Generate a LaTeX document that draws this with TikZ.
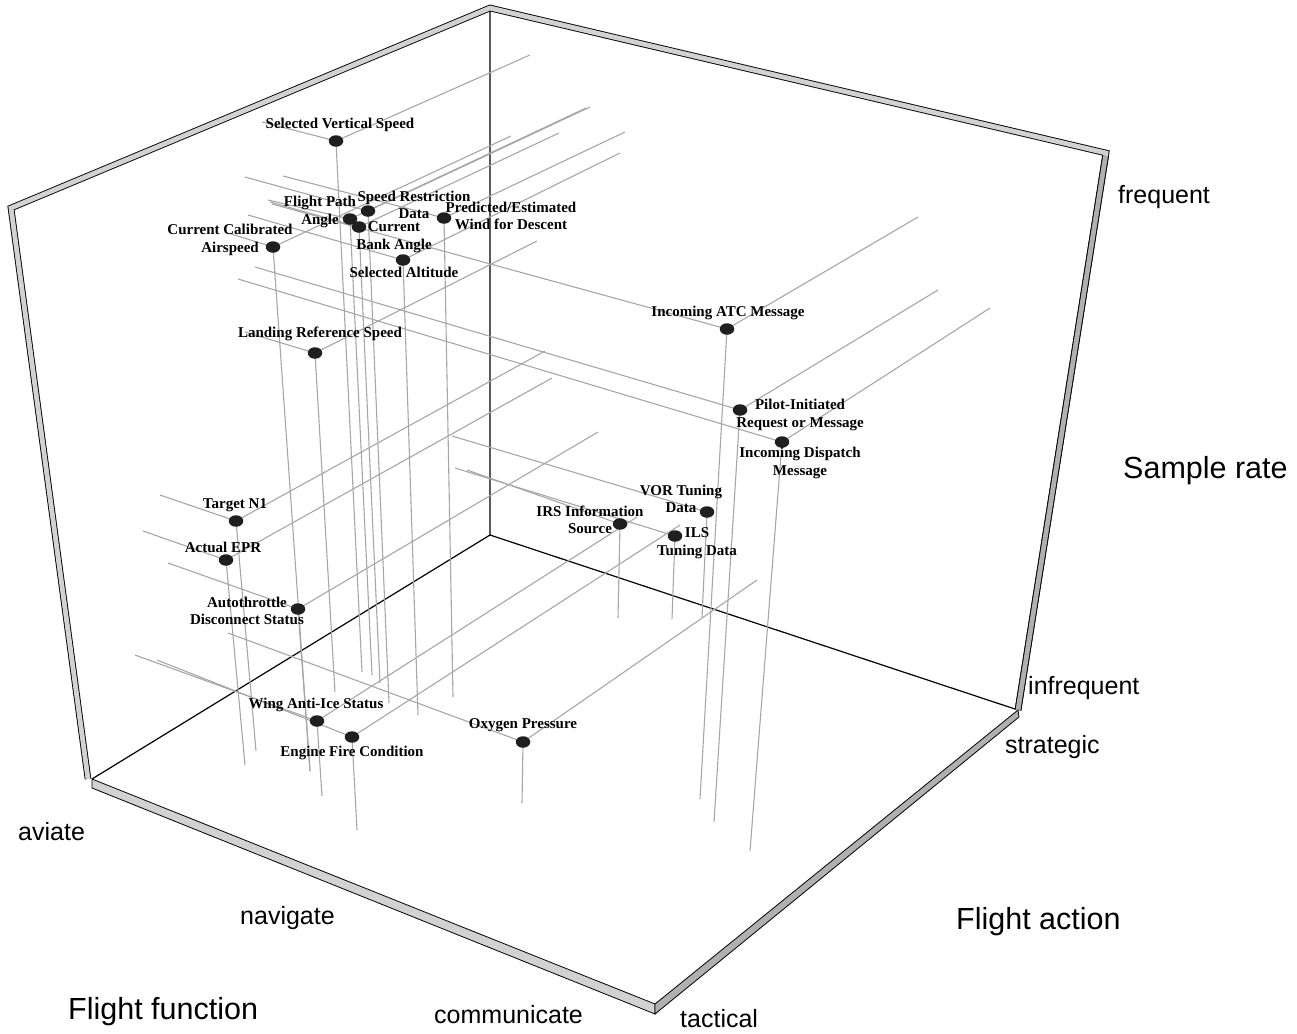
\documentclass[tikz,border=0pt]{standalone}
\usepackage{fontspec}
\setmainfont{Liberation Serif}
\newfontfamily\axisfont{Liberation Sans}
\usetikzlibrary{shapes.geometric}
\begin{document}
\begin{tikzpicture}[x=1pt,y=-1pt,
  guide/.style={draw=gray!70, line width=1.1pt},
  axisline/.style={draw=black, line width=1.2pt},
  barline/.style={draw=black, line width=0.9pt, double=gray!35, double distance=4.8pt, line join=miter},
  dotm/.style={ellipse, fill=black!88, minimum width=14.5pt, minimum height=11.5pt, inner sep=0pt},
  lab/.style={font=\bfseries\fontsize{15}{17.5}\selectfont, align=center, inner sep=0pt},
  ticklab/.style={font=\axisfont\fontsize{25}{28}\selectfont, inner sep=0pt, anchor=west},
  titlelab/.style={font=\axisfont\fontsize{30.5}{33}\selectfont, inner sep=0pt, anchor=west}]
\useasboundingbox (0,0) rectangle (1297,1033);

% ---------- box ----------
\coordinate (B) at (490,535);
\coordinate (Bt) at (490,8);
\coordinate (L) at (92,779);
\coordinate (Lt) at (11,208);
\coordinate (Lb) at (88,779);
\coordinate (R) at (1018,710);
\coordinate (Rt) at (1106,153);
\coordinate (F) at (655,1004);
\coordinate (Fd) at (655,1014);
\coordinate (Ld) at (92,788);
\coordinate (Rd) at (1019,717);

\draw[axisline] (Bt) -- (B) -- (L);
\draw[axisline] (B) -- (R);

% ---------- coordinates of the data points ----------
\coordinate (svs) at (336,141);  \coordinate (svs-f) at (362,672); \coordinate (svs-r) at (530,55);  \coordinate (svs-l) at (262,122);
\coordinate (fpa) at (350,219);  \coordinate (fpa-f) at (372,675); \coordinate (fpa-r) at (586,108); \coordinate (fpa-l) at (268,200);
\coordinate (srd) at (368,211);  \coordinate (srd-f) at (389,703); \coordinate (srd-r) at (590,107); \coordinate (srd-l) at (245,177);
\coordinate (cba) at (359,227);  \coordinate (cba-f) at (380,683); \coordinate (cba-r) at (559,133); \coordinate (cba-l) at (270,202);
\coordinate (pew) at (444,218);  \coordinate (pew-f) at (453,697); \coordinate (pew-r) at (625,132); \coordinate (pew-l) at (283,176);
\coordinate (cca) at (273,247);  \coordinate (cca-f) at (310,771); \coordinate (cca-r) at (511,136); \coordinate (cca-l) at (228,233);
\coordinate (sal) at (403,260);  \coordinate (sal-f) at (418,715); \coordinate (sal-r) at (620,153); \coordinate (sal-l) at (248,215);
\coordinate (lrs) at (315,353);  \coordinate (lrs-f) at (335,692); \coordinate (lrs-r) at (537,241); \coordinate (lrs-l) at (245,332);
\coordinate (atc) at (727,329);  \coordinate (atc-f) at (700,799); \coordinate (atc-r) at (918,217); \coordinate (atc-l) at (272,204);
\coordinate (pim) at (740,410);  \coordinate (pim-f) at (714,822); \coordinate (pim-r) at (938,290); \coordinate (pim-l) at (255,267);
\coordinate (idm) at (782,442);  \coordinate (idm-f) at (750,851); \coordinate (idm-r) at (990,308); \coordinate (idm-l) at (238,279);
\coordinate (vor) at (707,512);  \coordinate (vor-f) at (702,617); \coordinate (vor-l) at (452,436);
\coordinate (irs) at (620,524);  \coordinate (irs-f) at (618,618); \coordinate (irs-l) at (467,470);
\coordinate (ils) at (675,536);  \coordinate (ils-f) at (672,619); \coordinate (ils-l) at (455,468);
\coordinate (tn1) at (236,521);  \coordinate (tn1-f) at (256,751); \coordinate (tn1-r) at (545,351); \coordinate (tn1-l) at (160,495);
\coordinate (epr) at (226,560);  \coordinate (epr-f) at (245,765); \coordinate (epr-r) at (552,378); \coordinate (epr-l) at (143,531);
\coordinate (ads) at (298,609);  \coordinate (ads-f) at (310,771); \coordinate (ads-r) at (598,432); \coordinate (ads-l) at (168,563);
\coordinate (wai) at (317,721);  \coordinate (wai-f) at (322,796); \coordinate (wai-r) at (637,517); \coordinate (wai-l) at (135,655);
\coordinate (efc) at (352,737);  \coordinate (efc-f) at (357,830); \coordinate (efc-r) at (680,525); \coordinate (efc-l) at (157,660);
\coordinate (oxy) at (523,742);  \coordinate (oxy-f) at (522,803); \coordinate (oxy-r) at (757,580); \coordinate (oxy-l) at (228,633);

% ---------- projection lines ----------
\foreach \p in {svs,fpa,srd,cba,pew,cca,sal,lrs,atc,pim,idm,vor,irs,ils,tn1,epr,ads,wai,efc,oxy}
  \draw[guide] (\p) -- (\p-f);
\foreach \p in {svs,fpa,srd,cba,pew,cca,sal,lrs,atc,pim,idm,tn1,epr,ads,wai,efc,oxy}
  \draw[guide] (\p) -- (\p-r);
\foreach \p in {svs,fpa,srd,cba,pew,cca,sal,lrs,atc,pim,idm,vor,irs,ils,tn1,epr,ads,wai,efc,oxy}
  \draw[guide] (\p) -- (\p-l);

% ---------- frame bars ----------
\draw[barline] (Lb) -- (Lt) -- (Bt) -- (Rt) -- (R);
\draw[barline, double=gray!62, shorten <=3pt] (Rt) -- (R);
\filldraw[draw=black, line width=0.8pt, fill=gray!35] (L) -- (F) -- (Fd) -- (Ld) -- cycle;
\filldraw[draw=black, line width=0.8pt, fill=gray!62] (F) -- (R) -- (Rd) -- (Fd) -- cycle;

% ---------- dots ----------
\foreach \p in {svs,fpa,srd,cba,pew,cca,sal,lrs,atc,pim,idm,vor,irs,ils,tn1,epr,ads,wai,efc,oxy}
  \node[dotm] (\p-dot) at (\p) {};

% ---------- labels ----------
\node[lab] (svs-lab) at (340,125) {Selected Vertical Speed};
\node[lab] (fpa-lab) at (320,212) {Flight Path\\Angle};
\node[lab] (srd-lab) at (414,205) {Speed Restriction\\Data};
\node[lab] (cba-lab) at (394,237) {Current\\Bank Angle};
\node[lab] (pew-lab) at (511,216) {Predicted/Estimated\\Wind for Descent};
\node[lab] (cca-lab) at (230,240) {Current Calibrated\\Airspeed};
\node[lab] (sal-lab) at (404,272) {Selected Altitude};
\node[lab] (lrs-lab) at (320,334) {Landing Reference Speed};
\node[lab] (atc-lab) at (728,313) {Incoming ATC Message};
\node[lab] (pim-lab) at (800,415) {Pilot-Initiated\\Request or Message};
\node[lab] (idm-lab) at (800,463) {Incoming Dispatch\\Message};
\node[lab] (vor-lab) at (681,499) {VOR Tuning\\Data};
\node[lab] (irs-lab) at (590,520) {IRS Information\\Source};
\node[lab] (ils-lab) at (697,543) {ILS\\Tuning Data};
\node[lab] (tn1-lab) at (235,505) {Target N1};
\node[lab] (epr-lab) at (223,547) {Actual EPR};
\node[lab] (ads-lab) at (247,611) {Autothrottle\\Disconnect Status};
\node[lab] (wai-lab) at (316,705) {Wing Anti-Ice Status};
\node[lab] (efc-lab) at (352,753) {Engine Fire Condition};
\node[lab] (oxy-lab) at (523,725) {Oxygen Pressure};

% ---------- axis labels ----------
\node[ticklab] (t-freq) at (1118,197) {frequent};
\node[ticklab] (t-infreq) at (1028,688) {infrequent};
\node[ticklab] (t-strat) at (1005,747) {strategic};
\node[ticklab] (t-tact) at (680,1019) {tactical};
\node[ticklab] (t-comm) at (434,1015) {communicate};
\node[ticklab] (t-nav) at (240,918) {navigate};
\node[ticklab] (t-av) at (18,832) {aviate};
\node[titlelab] (ti-sr) at (1123,471) {Sample rate};
\node[titlelab] (ti-fa) at (956,922) {Flight action};
\node[titlelab] (ti-ff) at (68,1012) {Flight function};
\end{tikzpicture}
\end{document}
